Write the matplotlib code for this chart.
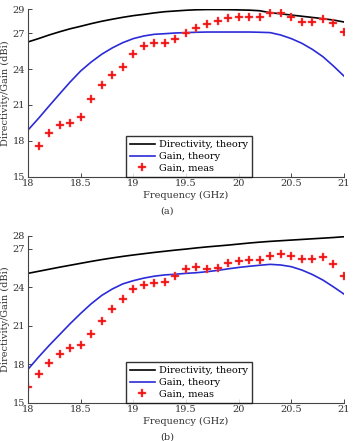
import matplotlib
matplotlib.use("Agg")
import matplotlib.pyplot as plt
import numpy as np

# frequency grid (GHz)
freq = np.round(np.arange(18.0, 21.01, 0.1), 1)

# (a) values
dir_a = [26.27, 26.55, 26.85, 27.12, 27.37, 27.58, 27.80, 28.00, 28.17, 28.33,
         28.47, 28.58, 28.70, 28.80, 28.86, 28.92, 28.96, 28.98, 28.98, 28.97,
         28.95, 28.93, 28.88, 28.72, 28.62, 28.52, 28.42, 28.32, 28.22, 28.10, 27.94]
gain_a = [18.90, 19.88, 20.91, 21.92, 22.92, 23.84, 24.59, 25.24, 25.77, 26.21,
          26.55, 26.77, 26.91, 26.96, 27.02, 27.05, 27.08, 27.10, 27.10, 27.10,
          27.10, 27.10, 27.08, 27.05, 26.85, 26.55, 26.16, 25.65, 25.04, 24.26, 23.42]
meas_a = [None, 17.57, 18.65, 19.35, 19.52, 19.99, 21.53, 22.67, 23.48, 24.20,
          25.26, 25.96, 26.21, 26.16, 26.52, 27.05, 27.41, 27.77, 28.05, 28.25,
          28.39, 28.33, 28.33, 28.67, 28.72, 28.33, 27.94, 27.94, 28.19, 27.88, 27.10]

# (b) values
dir_b = [25.07, 25.23, 25.39, 25.55, 25.70, 25.85, 26.00, 26.14, 26.27, 26.39,
         26.50, 26.60, 26.70, 26.79, 26.88, 26.96, 27.05, 27.13, 27.20, 27.27,
         27.35, 27.43, 27.50, 27.56, 27.61, 27.66, 27.71, 27.76, 27.81, 27.86, 27.92]
gain_b = [17.60, 18.55, 19.45, 20.30, 21.15, 21.95, 22.70, 23.35, 23.85, 24.25,
          24.50, 24.70, 24.85, 24.95, 25.00, 25.07, 25.12, 25.20, 25.30, 25.42,
          25.53, 25.62, 25.70, 25.77, 25.72, 25.59, 25.33, 24.98, 24.55, 24.02, 23.46]
meas_b = [16.19, 17.21, 18.11, 18.81, 19.23, 19.49, 20.32, 21.33, 22.32, 23.10,
          23.82, 24.16, 24.34, 24.42, 24.89, 25.38, 25.54, 25.43, 25.48, 25.85,
          26.05, 26.11, 26.11, 26.42, 26.57, 26.42, 26.16, 26.16, 26.31, 25.79, 24.86]

xticks = [18, 18.5, 19, 19.5, 20, 20.5, 21]
xticklabels = ["18", "18.5", "19", "19.5", "20", "20.5", "21"]
yticks_a = [15, 18, 21, 24, 27, 29]
yticks_b = [15, 18, 21, 24, 27, 28]

plt.rcParams["font.family"] = ["DejaVu Serif"]
plt.rcParams["font.size"] = 7

fig = plt.figure(figsize=(3.57, 4.41), dpi=100, facecolor="white")


def draw_panel(ax, d, g, m, yticks, ylim, caption):
    mx = [f for f, v in zip(freq, m) if v is not None]
    my = [v for v in m if v is not None]
    ax.plot(freq, d, color="black", lw=1.2, label="Directivity, theory")
    ax.plot(freq, g, color="#2b2bd8", lw=1.2, label="Gain, theory")
    ax.plot(mx, my, ls="none", marker="P", ms=5.5, mew=0.3,
            color="#ee1111", mec="#ff6666", label="Gain, meas")
    ax.set_xlim(18, 21)
    ax.set_ylim(*ylim)
    ax.set_xticks(xticks)
    ax.set_xticklabels(xticklabels)
    ax.set_yticks(yticks)
    ax.spines["top"].set_visible(False)
    ax.spines["right"].set_visible(False)
    for s in ("left", "bottom"):
        ax.spines[s].set_color("#444444")
        ax.spines[s].set_linewidth(0.8)
    ax.tick_params(direction="in", length=3, width=0.7, colors="#444444",
                   labelcolor="#333333", labelsize=7, pad=2)
    ax.set_xlabel("Frequency (GHz)", color="#333333", fontsize=7, labelpad=2)
    ax.set_ylabel("Directivity/Gain (dBi)", color="#333333", fontsize=7, labelpad=2)
    leg = ax.legend(loc="lower left", bbox_to_anchor=(0.31, 0.0), frameon=True,
                    fancybox=False, edgecolor="black", fontsize=7,
                    handlelength=2.6, borderpad=0.4, labelspacing=0.3,
                    handletextpad=0.4, borderaxespad=0.0)
    leg.get_frame().set_linewidth(1.0)
    ax.text(0.44, -0.205, caption, transform=ax.transAxes, ha="center",
            va="center", fontsize=7, color="#333333")


ax1 = fig.add_axes([0.0784, 0.5993, 0.885, 0.3796])
draw_panel(ax1, dir_a, gain_a, meas_a, yticks_a, (15, 29), "(a)")

ax2 = fig.add_axes([0.0784, 0.0868, 0.885, 0.3787])
draw_panel(ax2, dir_b, gain_b, meas_b, yticks_b, (15, 28), "(b)")

fig.savefig("out.png", dpi=100, facecolor="white")
